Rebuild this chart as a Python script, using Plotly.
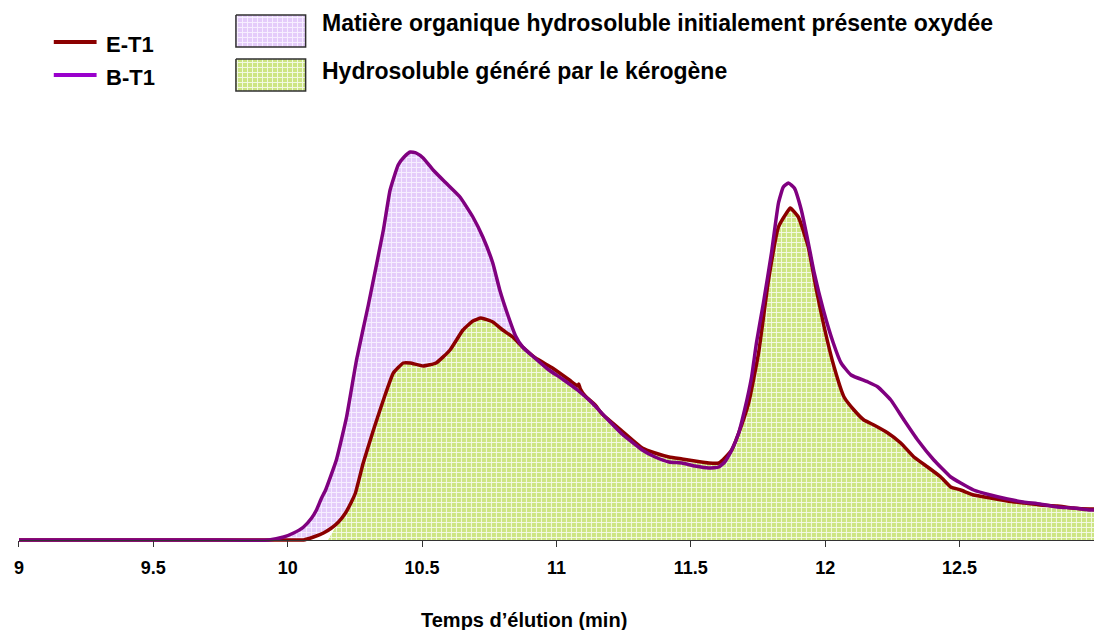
import numpy as np
import plotly.graph_objects as go

# Elution time (min) and detector response for the two chromatograms
T_B = [9.000, 9.689, 9.930, 9.985, 10.022, 10.059, 10.089, 10.107, 10.126, 10.141,
       10.181, 10.219, 10.256, 10.300, 10.356, 10.381, 10.411, 10.433, 10.456, 10.478,
       10.504, 10.541, 10.589, 10.641, 10.689, 10.726, 10.763, 10.789, 10.819, 10.848,
       10.874, 10.911, 10.967, 11.022, 11.078, 11.133, 11.189, 11.244, 11.319, 11.367,
       11.419, 11.467, 11.515, 11.567, 11.604, 11.626, 11.652, 11.678, 11.700, 11.726,
       11.744, 11.770, 11.800, 11.826, 11.844, 11.863, 11.885, 11.911, 11.937, 11.959,
       11.993, 12.030, 12.059, 12.096, 12.159, 12.196, 12.244, 12.293, 12.344, 12.404,
       12.467, 12.504, 12.552, 12.615, 12.678, 12.737, 12.800, 12.863, 12.922, 12.985,
       13.000]
I_B = [0.0, 0.0, 0.0, 0.75, 1.75, 3.25, 5.5, 7.5, 10.5, 12.5,
       20.0, 30.75, 45.0, 58.75, 77.5, 87.5, 93.75, 95.75, 97.0, 96.75,
       95.5, 92.5, 89.25, 85.75, 80.75, 75.75, 69.25, 62.5, 56.25, 51.0,
       48.25, 46.0, 42.75, 40.25, 37.5, 34.25, 30.25, 26.5, 22.5, 20.75,
       19.5, 19.25, 18.5, 18.0, 18.25, 19.5, 22.5, 26.75, 32.5, 40.75,
       49.25, 59.25, 71.75, 84.25, 88.25, 89.25, 88.0, 82.5, 74.25, 66.75,
       57.5, 49.25, 44.25, 41.25, 39.5, 38.25, 35.0, 30.0, 25.0, 20.0,
       15.75, 14.25, 12.5, 11.25, 10.25, 9.5, 9.0, 8.25, 8.0, 7.5,
       7.5]

T_E = [9.000, 9.930, 10.022, 10.059, 10.096, 10.133, 10.163, 10.189, 10.215, 10.237,
       10.252, 10.281, 10.319, 10.356, 10.393, 10.430, 10.456, 10.504, 10.552, 10.604,
       10.652, 10.689, 10.719, 10.763, 10.800, 10.837, 10.874, 10.922, 10.985, 11.048,
       11.078, 11.083, 11.089, 11.107, 11.144, 11.170, 11.244, 11.319, 11.367, 11.419,
       11.467, 11.515, 11.567, 11.604, 11.626, 11.652, 11.678, 11.715, 11.752, 11.789,
       11.826, 11.856, 11.870, 11.900, 11.937, 11.967, 11.996, 12.033, 12.070, 12.107,
       12.144, 12.181, 12.233, 12.281, 12.330, 12.381, 12.430, 12.467, 12.504, 12.552,
       12.615, 12.678, 12.737, 12.800, 12.863, 12.922, 12.985, 13.000]
I_E = [0.0, 0.0, 0.0, 0.0, 0.75, 1.75, 3.0, 4.5, 6.75, 9.5,
       11.75, 19.25, 27.5, 35.0, 41.75, 44.25, 44.25, 43.5, 44.25, 47.5,
       52.5, 54.75, 55.5, 54.5, 52.5, 50.75, 48.25, 45.5, 43.0, 40.0,
       38.5, 39.0, 37.75, 36.0, 33.75, 31.5, 27.25, 23.0, 21.75, 20.75,
       20.25, 19.75, 19.25, 19.25, 20.5, 22.5, 26.75, 34.25, 46.75, 65.0,
       78.25, 81.75, 83.0, 80.75, 73.25, 62.5, 53.25, 43.25, 35.75, 32.5,
       30.0, 28.75, 26.75, 24.25, 20.75, 18.25, 15.75, 13.25, 12.5, 11.25,
       10.5, 9.75, 9.25, 8.75, 8.5, 8.0, 7.75, 7.75]

# Onset of the kerogen-generated hydrosoluble fraction, then it follows E-T1
KER_ONSET_T = [10.15]
KER_ONSET_I = [0.0]
KER_JOIN_T = 10.25

# Window where the initially present oxidised organic matter lies between the curves
OX_START, OX_END = 9.985, 10.85

TICKS = [9, 9.5, 10, 10.5, 11, 11.5, 12, 12.5]
TICK_TEXT = ["9", "9.5", "10", "10.5", "11", "11.5", "12", "12.5"]

LEGEND_LINES = ["E-T1", "B-T1"]
LEGEND_AREAS = ["Matière organique hydrosoluble initialement présente oxydée",
                "Hydrosoluble généré par le kérogène"]
X_TITLE = "Temps d’élution (min)"

RED = "#8B0000"
PURPLE = "#800080"
PURPLE_LEG = "#9900CC"
LAV_BG, LAV_FG = "#E4CCFA", "#F7F0FF"
GRN_BG, GRN_FG = "#CDE584", "#F4FAE4"
FONT = "Liberation Sans, Arial, sans-serif"

W, H = 1094, 630
tB, iB = np.array(T_B), np.array(I_B)
tE, iE = np.array(T_E), np.array(I_E)


def pattern(bg, fg):
    return dict(shape="+", bgcolor=bg, fgcolor=fg, size=5, solidity=0.35, fillmode="replace")


fig = go.Figure()

# Lavender area between E-T1 and B-T1 on the first peak
mE = (tE >= OX_START) & (tE <= OX_END)
mB = (tB >= OX_START) & (tB <= OX_END)
fig.add_trace(go.Scatter(x=tE[mE], y=iE[mE], mode="lines", line=dict(width=0),
                         showlegend=False, hoverinfo="skip"))
fig.add_trace(go.Scatter(x=tB[mB], y=iB[mB], mode="lines", line=dict(width=0),
                         fill="tonexty", fillpattern=pattern(LAV_BG, LAV_FG),
                         showlegend=False, hoverinfo="skip"))

# Green area under the kerogen-generated fraction
mK = tE >= KER_JOIN_T
tK = np.concatenate([KER_ONSET_T, tE[mK]])
iK = np.concatenate([KER_ONSET_I, iE[mK]])
fig.add_trace(go.Scatter(x=tK, y=iK, mode="lines", line=dict(width=0),
                         fill="tozeroy", fillpattern=pattern(GRN_BG, GRN_FG),
                         showlegend=False, hoverinfo="skip"))

# Chromatogram traces
fig.add_trace(go.Scatter(x=tE, y=iE, mode="lines", name="E-T1",
                         line=dict(color=RED, width=3.5, shape="spline", smoothing=0.4),
                         showlegend=False))
fig.add_trace(go.Scatter(x=tB, y=iB, mode="lines", name="B-T1",
                         line=dict(color=PURPLE, width=3.5, shape="spline", smoothing=0.4),
                         showlegend=False))

# Legend boxes drawn in a page-sized overlay frame (pixel units)
boxes = [(232, 15, 302, 47, LAV_BG, LAV_FG), (232, 59, 302, 91, GRN_BG, GRN_FG)]
for x0, y0, x1, y1, bg, fg in boxes:
    fig.add_trace(go.Scatter(x=[x0, x1, x1, x0, x0], y=[y0, y0, y1, y1, y0],
                             xaxis="x2", yaxis="y2", mode="lines", fill="toself",
                             fillpattern=pattern(bg, fg),
                             line=dict(color="#303030", width=1.5),
                             showlegend=False, hoverinfo="skip"))

base_frac = (H - 540) / H
y_lo, y_hi = -2.0, 100.0
dom_lo = (H - 548) / H
dom_hi = (H - 140) / H

annotations = []
shapes = []
for (label, color, yy) in [(LEGEND_LINES[0], RED, 42), (LEGEND_LINES[1], PURPLE_LEG, 75)]:
    shapes.append(dict(type="line", xref="x2", yref="y2", x0=49, x1=92, y0=yy, y1=yy,
                       line=dict(color=color, width=4)))
    annotations.append(dict(xref="x2", yref="y2", x=99, y=yy + 2, text=label,
                            showarrow=False, xanchor="left", yanchor="middle",
                            font=dict(family=FONT, size=22, color="black", weight="bold")))
for label, yy in zip(LEGEND_AREAS, [23, 71]):
    annotations.append(dict(xref="x2", yref="y2", x=316, y=yy, text=label,
                            showarrow=False, xanchor="left", yanchor="middle",
                            font=dict(family=FONT, size=23, color="black", weight="bold")))
annotations.append(dict(xref="x2", yref="y2", x=521, y=620, text=X_TITLE,
                        showarrow=False, xanchor="center", yanchor="middle",
                        font=dict(family=FONT, size=20, color="black", weight="bold")))

fig.update_layout(
    width=W, height=H,
    margin=dict(l=0, r=0, t=0, b=0),
    paper_bgcolor="white", plot_bgcolor="rgba(0,0,0,0)",
    showlegend=False,
    xaxis=dict(domain=[14 / W, 1.0], range=[9, 13], anchor="free", position=base_frac,
               tickvals=TICKS, ticktext=TICK_TEXT, ticks="outside", ticklen=6,
               tickcolor="#333333", tickwidth=1, ticklabelstandoff=5,
               showline=True, linecolor="#333333", linewidth=1,
               showgrid=False, zeroline=False,
               tickfont=dict(family=FONT, size=18, color="black", weight="bold")),
    yaxis=dict(domain=[dom_lo, dom_hi], range=[y_lo, y_hi], visible=False,
               showgrid=False, zeroline=False),
    xaxis2=dict(domain=[0, 1], range=[0, W], anchor="y2", visible=False),
    yaxis2=dict(domain=[0, 1], range=[H, 0], anchor="x2", visible=False),
    annotations=annotations,
    shapes=shapes,
)

fig.write_html("out.html")
